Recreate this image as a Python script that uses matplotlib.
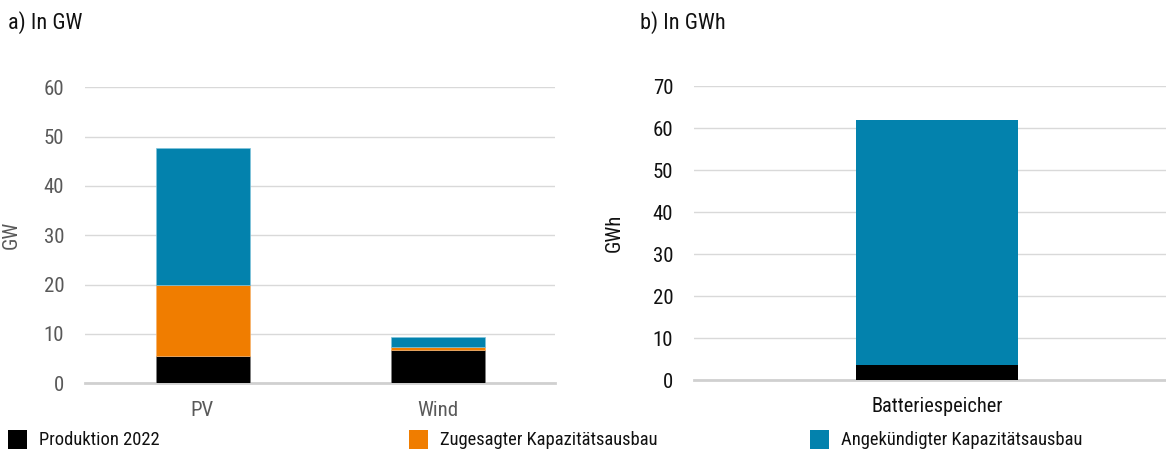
import matplotlib
matplotlib.use("Agg")
import matplotlib.pyplot as plt
from matplotlib import font_manager
from matplotlib.patches import Rectangle

names = {f.name for f in font_manager.fontManager.ttflist}
cond = [n for n in ["Roboto Condensed", "Liberation Sans Narrow", "Open Sans Condensed"] if n in names]
plt.rcParams['font.family'] = cond + ['Liberation Sans', 'DejaVu Sans']

# Data
cat_a = ["PV", "Wind"]
prod_a = [5.5, 6.7]
zug_a = [14.5, 0.7]
ang_a = [27.7, 1.9]

cat_b = ["Batteriespeicher"]
prod_b = [3.6]
ang_b = [58.4]

series_names = ["Produktion 2022", "Zugesagter Kapazitätsausbau", "Angekündigter Kapazitätsausbau"]
c_black, c_orange, c_blue = "#000000", "#F07D00", "#0382AD"
series_colors = [c_black, c_orange, c_blue]

W, H = 1166, 451
fig = plt.figure(figsize=(W / 100, H / 100), dpi=100)

def fx(px):
    return px / W

def fy(px):
    return 1 - px / H

# Left panel
axa = fig.add_axes([fx(85), fy(383.3), fx(555 - 85), (383.3 - 87.3) / H])
xa = list(range(len(cat_a)))
axa.bar(xa, prod_a, width=0.4, color=c_black, edgecolor="#7f7f7f", linewidth=0.5, zorder=3)
axa.bar(xa, zug_a, width=0.4, bottom=prod_a, color=c_orange, edgecolor="#f6b26b", linewidth=0.5, zorder=3)
bot = [p + z for p, z in zip(prod_a, zug_a)]
axa.bar(xa, ang_a, width=0.4, bottom=bot, color=c_blue, edgecolor="#7fc3dc", linewidth=0.5, zorder=3)
axa.set_xlim(-0.5, 1.5)
axa.set_ylim(0, 60)
axa.set_yticks(range(0, 61, 10))
axa.set_xticks(xa)
axa.set_xticklabels(cat_a)
axa.tick_params(axis="y", length=0, labelsize=15, colors="#595959", pad=15)
axa.tick_params(axis="x", length=0, labelsize=15, colors="#595959", pad=13)
axa.grid(axis="y", color="#d9d9d9", linewidth=1.0, zorder=0)
for s in ["top", "right", "left"]:
    axa.spines[s].set_visible(False)
axa.spines["bottom"].set_color("#d0d0d0")
axa.spines["bottom"].set_linewidth(2)
axa.set_ylabel("GW", fontsize=15, color="#595959")
axa.yaxis.set_label_coords((21 - 85) / (555 - 85), 0.5)

# Right panel
axb = fig.add_axes([fx(694), fy(380.3), fx(1166 - 694), (380.3 - 86) / H])
xb = list(range(len(cat_b)))
axb.bar(xb, prod_b, width=0.333, color=c_black, zorder=3)
axb.bar(xb, ang_b, width=0.333, bottom=prod_b, color=c_blue, zorder=3)
axb.set_xlim(-0.5, 0.471)
axb.set_ylim(0, 70)
axb.set_yticks(range(0, 71, 10))
axb.set_xticks(xb)
axb.set_xticklabels(cat_b)
axb.tick_params(axis="y", length=0, labelsize=15, colors="#111111", pad=15)
axb.tick_params(axis="x", length=0, labelsize=14.7, colors="#111111", pad=12)
axb.grid(axis="y", color="#d9d9d9", linewidth=1.0, zorder=0)
for s in ["top", "right", "left"]:
    axb.spines[s].set_visible(False)
axb.spines["bottom"].set_color("#d0d0d0")
axb.spines["bottom"].set_linewidth(2)
axb.set_ylabel("GWh", fontsize=15, color="#111111")
axb.yaxis.set_label_coords((624 - 694) / (1166 - 694), 0.5)

# Titles
fig.text(fx(8), fy(23), "a) In GW", fontsize=16, va="center", ha="left", color="#111111")
fig.text(fx(640), fy(23), "b) In GWh", fontsize=16, va="center", ha="left", color="#111111")

# Legend (manual, evenly spaced entries)
sq_x = [8, 409, 810]
for x0, name, col in zip(sq_x, series_names, series_colors):
    fig.add_artist(Rectangle((fx(x0), fy(449)), fx(19), 19 / H, transform=fig.transFigure,
                             facecolor=col, edgecolor="none"))
    fig.text(fx(x0 + 31), fy(440), name, fontsize=13.3, va="center", ha="left", color="#111111")

fig.savefig("out.png", dpi=100)
